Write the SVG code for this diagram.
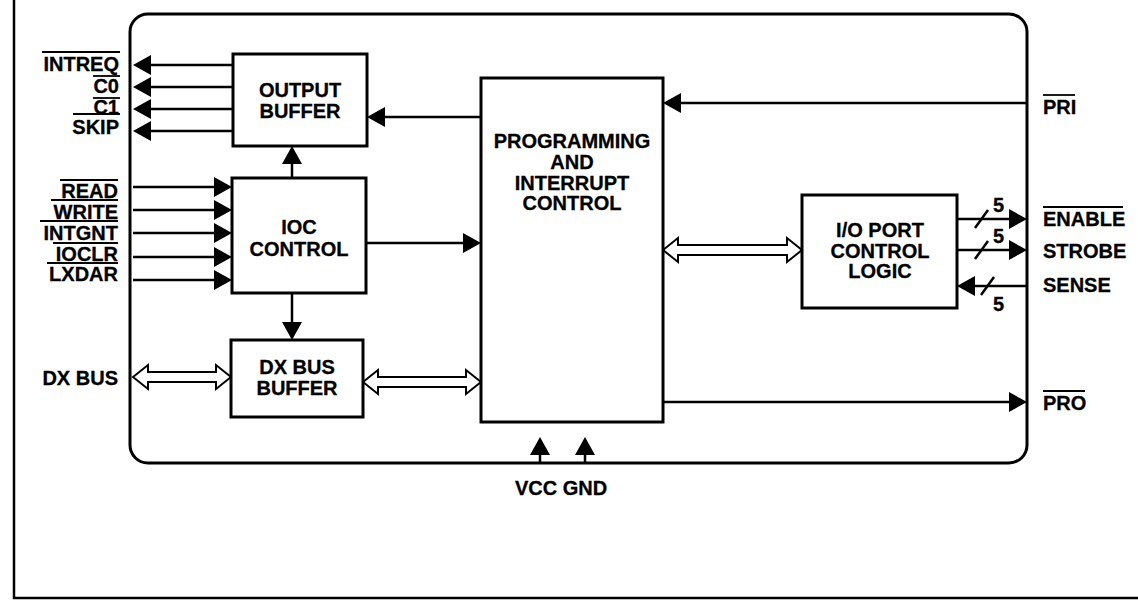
<svg xmlns="http://www.w3.org/2000/svg" width="1138" height="609" viewBox="0 0 1138 609">
<defs>
<marker id="ah" markerUnits="userSpaceOnUse" markerWidth="18" markerHeight="20" refX="14" refY="10" orient="auto">
<path d="M0,0 L18,10 L0,20 z" fill="#000"/>
</marker>
<style>
.box{fill:#fff;stroke:#000;stroke-width:3}
.ln{fill:none;stroke:#000;stroke-width:2.5}
.bus{fill:#fff;stroke:#000;stroke-width:2;stroke-linejoin:miter}
.t{font-family:"Liberation Sans",Arial,sans-serif;font-weight:bold;font-size:20px;fill:#000;stroke:#000;stroke-width:0.3}
.c{text-anchor:middle}
.r{text-anchor:end}
.ob{stroke:#000;stroke-width:1.8}
</style>
</defs>
<rect width="1138" height="609" fill="#fff"/>
<g id="frame">
<path d="M14,0 L14,598 L1138,598" class="ln"/>
<rect x="130" y="14" width="897" height="449" rx="18" ry="18" fill="none" stroke="#000" stroke-width="3"/>
</g>
<g id="connectors">
<line x1="233" y1="65" x2="137" y2="65" class="ln" marker-end="url(#ah)"/>
<line x1="233" y1="87" x2="137" y2="87" class="ln" marker-end="url(#ah)"/>
<line x1="233" y1="109" x2="137" y2="109" class="ln" marker-end="url(#ah)"/>
<line x1="233" y1="131" x2="137" y2="131" class="ln" marker-end="url(#ah)"/>
<line x1="133" y1="187" x2="228" y2="187" class="ln" marker-end="url(#ah)"/>
<line x1="133" y1="210" x2="228" y2="210" class="ln" marker-end="url(#ah)"/>
<line x1="133" y1="233" x2="228" y2="233" class="ln" marker-end="url(#ah)"/>
<line x1="133" y1="257" x2="228" y2="257" class="ln" marker-end="url(#ah)"/>
<line x1="133" y1="280" x2="228" y2="280" class="ln" marker-end="url(#ah)"/>
<line x1="292" y1="178" x2="292" y2="150" class="ln" marker-end="url(#ah)"/>
<line x1="481" y1="117" x2="371" y2="117" class="ln" marker-end="url(#ah)"/>
<line x1="366" y1="243" x2="477" y2="243" class="ln" marker-end="url(#ah)"/>
<line x1="292" y1="293" x2="292" y2="336" class="ln" marker-end="url(#ah)"/>
<line x1="1027" y1="103" x2="667" y2="103" class="ln" marker-end="url(#ah)"/>
<line x1="663" y1="402" x2="1023" y2="402" class="ln" marker-end="url(#ah)"/>
<line x1="540" y1="463" x2="540" y2="441" class="ln" marker-end="url(#ah)"/>
<line x1="585" y1="463" x2="585" y2="441" class="ln" marker-end="url(#ah)"/>
<line x1="957" y1="219" x2="1023" y2="219" class="ln" marker-end="url(#ah)"/>
<line x1="957" y1="250" x2="1023" y2="250" class="ln" marker-end="url(#ah)"/>
<line x1="1027" y1="286" x2="961" y2="286" class="ln" marker-end="url(#ah)"/>
<line x1="975" y1="228" x2="988" y2="210" class="ln" stroke-width="2"/>
<line x1="975" y1="259" x2="988" y2="241" class="ln" stroke-width="2"/>
<line x1="981" y1="295" x2="994" y2="277" class="ln" stroke-width="2"/>
<polygon class="bus" points="133,377 148,365 148,372 216,372 216,365 231,377 216,389 216,382 148,382 148,389"/>
<polygon class="bus" points="363,382 378,370 378,377 466,377 466,370 481,382 466,394 466,387 378,387 378,394"/>
<polygon class="bus" points="663,250 678,238 678,245 787,245 787,238 802,250 787,262 787,255 678,255 678,262"/>
</g>
<g id="output-buffer">
<rect x="233" y="54" width="134" height="92" class="box"/>
<text x="300" y="97" class="t c">OUTPUT</text>
<text x="300" y="118" class="t c">BUFFER</text>
</g>
<g id="ioc-control">
<rect x="232" y="178" width="134" height="115" class="box"/>
<text x="299" y="234" class="t c">IOC</text>
<text x="299" y="256" class="t c">CONTROL</text>
</g>
<g id="dx-bus-buffer">
<rect x="231" y="340" width="132" height="77" class="box"/>
<text x="297" y="374" class="t c">DX BUS</text>
<text x="297" y="395" class="t c">BUFFER</text>
</g>
<g id="programming">
<rect x="481" y="78" width="182" height="344" class="box"/>
<text x="572" y="148" class="t c">PROGRAMMING</text>
<text x="572" y="169" class="t c">AND</text>
<text x="572" y="190" class="t c">INTERRUPT</text>
<text x="572" y="210" class="t c">CONTROL</text>
</g>
<g id="io-port">
<rect x="802" y="195" width="155" height="113" class="box"/>
<text x="880" y="237" class="t c">I/O PORT</text>
<text x="880" y="258" class="t c">CONTROL</text>
<text x="880" y="278" class="t c">LOGIC</text>
</g>
<g id="labels">
<text x="119" y="71" class="t r">INTREQ</text>
<line x1="42" y1="52" x2="120" y2="52" class="ob"/>
<text x="119" y="93" class="t r">C0</text>
<line x1="93" y1="76" x2="120" y2="76" class="ob"/>
<text x="119" y="114" class="t r">C1</text>
<line x1="93" y1="98" x2="120" y2="98" class="ob"/>
<text x="119" y="134" class="t r">SKIP</text>
<line x1="73" y1="114" x2="120" y2="114" class="ob"/>
<text x="118" y="198" class="t r">READ</text>
<line x1="60" y1="180" x2="118" y2="180" class="ob"/>
<text x="118" y="219" class="t r">WRITE</text>
<line x1="51" y1="200" x2="118" y2="200" class="ob"/>
<text x="118" y="240" class="t r">INTGNT</text>
<line x1="40" y1="221" x2="118" y2="221" class="ob"/>
<text x="118" y="261" class="t r">IOCLR</text>
<line x1="53" y1="243" x2="118" y2="243" class="ob"/>
<text x="118" y="281" class="t r">LXDAR</text>
<line x1="47" y1="263" x2="118" y2="263" class="ob"/>
<text x="118" y="385" class="t r">DX BUS</text>
<text x="1043" y="114" class="t">PRI</text>
<line x1="1043" y1="95" x2="1075" y2="95" class="ob"/>
<text x="1043" y="226" class="t">ENABLE</text>
<line x1="1043" y1="207" x2="1123" y2="207" class="ob"/>
<text x="1043" y="258" class="t">STROBE</text>
<text x="1043" y="292" class="t">SENSE</text>
<text x="1043" y="410" class="t">PRO</text>
<line x1="1043" y1="391" x2="1085" y2="391" class="ob"/>
<text x="561" y="495" class="t c">VCC GND</text>
<text x="993" y="212" class="t" font-size="17">5</text>
<text x="993" y="243" class="t" font-size="17">5</text>
<text x="993" y="311" class="t" font-size="17">5</text>
</g>
</svg>
